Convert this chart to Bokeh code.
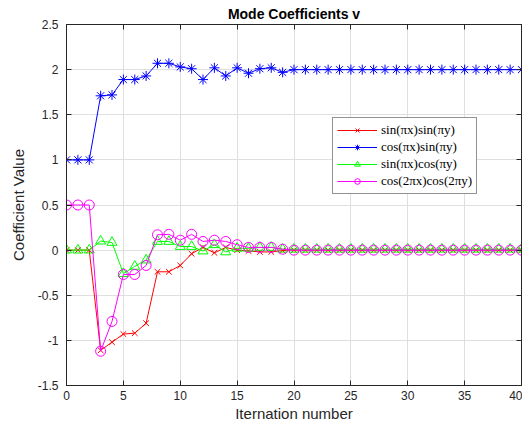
from bokeh.plotting import figure
from bokeh.models import LinearAxis, FixedTicker, Legend, LegendItem, Range1d, Title
from bokeh.embed import file_html
from bokeh.resources import INLINE

iters = list(range(41))
sin_sin = [0, 0, 0, -1.11, -1.02, -0.93, -0.92, -0.81, -0.24, -0.24, -0.17, -0.04, 0.03,
           -0.03, 0.03, 0.0, -0.01, -0.02, -0.02, -0.005] + [0.0] * 21
cos_sin = [1.0, 1.0, 1.0, 1.71, 1.72, 1.89, 1.89, 1.93, 2.07, 2.07, 2.03, 2.01, 1.89,
           2.02, 1.93, 2.02, 1.96, 2.01, 2.02, 1.97] + [2.0] * 21
sin_cos = [0, 0, 0, 0.10, 0.085, -0.26, -0.18, -0.11, 0.096, 0.096, 0.04, 0.04, -0.01,
           0.06, -0.02, 0.02, 0.02, 0.03, 0.03, 0.01] + [0.01] * 21
cos2_cos2 = [0.5, 0.5, 0.5, -1.12, -0.79, -0.27, -0.27, -0.17, 0.17, 0.175, 0.11, 0.175,
             0.096, 0.11, 0.096, 0.06, 0.03, 0.03, 0.03, 0.01] + [0.0] * 21

labels = ["sin(πx)sin(πy)", "cos(πx)sin(πy)", "sin(πx)cos(πy)", "cos(2πx)cos(2πy)"]
colors = ["#FF0000", "#0000FF", "#00FF00", "#FF00FF"]
markers = ["x", "asterisk", "triangle", "circle"]
xticks = [0, 5, 10, 15, 20, 25, 30, 35, 40]
yticks = [-1.5, -1, -0.5, 0, 0.5, 1, 1.5, 2, 2.5]
ytick_labels = ["-1.5", "-1", "-0.5", "0", "0.5", "1", "1.5", "2", "2.5"]

W, H = 522, 424
p = figure(width=W, height=H, output_backend="svg", toolbar_location=None,
           x_range=Range1d(0, 40), y_range=Range1d(-1.5, 2.5),
           min_border_left=66, min_border_right=1, min_border_top=0, min_border_bottom=38)
p.title = Title(text="Mode Coefficients v", align="center", text_font="Liberation Sans",
                text_font_size="14px", text_font_style="bold", text_color="#000000",
                offset=0, standoff=6)
p.outline_line_color = "#262626"
p.outline_line_width = 1
p.background_fill_color = "white"

font = "Liberation Sans"
for ax in p.xaxis + p.yaxis:
    ax.major_label_text_font = font
    ax.major_label_text_font_size = "12px"
    ax.major_label_text_color = "#262626"
    ax.axis_line_color = "#262626"
    ax.major_tick_line_color = "#262626"
    ax.major_tick_in = 5
    ax.major_tick_out = 0
    ax.minor_tick_line_color = None
    ax.axis_label_text_font = font
    ax.axis_label_text_font_size = "15px"
    ax.axis_label_text_font_style = "normal"
    ax.axis_label_text_color = "#262626"

p.xaxis.ticker = FixedTicker(ticks=xticks)
p.yaxis.ticker = FixedTicker(ticks=yticks)
p.yaxis.major_label_overrides = {t: l for t, l in zip(yticks, ytick_labels)}
p.xaxis.axis_label = "Iternation number"
p.yaxis.axis_label = "Coefficient Value"
p.xaxis.axis_label_standoff = 2
p.yaxis.axis_label_standoff = 8
p.xaxis.major_label_standoff = 5
p.yaxis.major_label_standoff = 8

top = LinearAxis(ticker=FixedTicker(ticks=xticks),
                 major_label_overrides={t: "" for t in xticks},
                 major_tick_in=5, major_tick_out=0, axis_line_color="#262626",
                 major_tick_line_color="#262626", minor_tick_line_color=None,
                 major_label_standoff=0)
right = LinearAxis(ticker=FixedTicker(ticks=yticks),
                   major_label_overrides={t: "" for t in yticks},
                   major_tick_in=5, major_tick_out=0, axis_line_color="#262626",
                   major_tick_line_color="#262626", minor_tick_line_color=None,
                   major_label_standoff=0)
p.add_layout(top, "above")
p.add_layout(right, "right")

p.xgrid.ticker = FixedTicker(ticks=xticks)
p.ygrid.ticker = FixedTicker(ticks=yticks)
p.grid.grid_line_color = "#DFDFDF"
p.grid.grid_line_width = 1

items = []
for ys, lab, c, m in zip([sin_sin, cos_sin, sin_cos, cos2_cos2], labels, colors, markers):
    ln = p.line(iters, ys, line_color=c, line_width=1)
    sc = p.scatter(iters, ys, marker=m, size=10 if m != "x" else 8, line_color=c,
                   fill_color=None, line_width=1)
    items.append(LegendItem(label=lab, renderers=[ln, sc]))

legend = Legend(items=items, location=(266, 191), label_text_font="Liberation Serif",
                label_text_font_size="13px", label_text_color="#000000",
                border_line_color="#262626", border_line_width=1,
                background_fill_color="white", background_fill_alpha=1,
                glyph_width=40, glyph_height=14, label_height=14, spacing=1,
                padding=4, margin=0, label_standoff=4)
p.add_layout(legend, "center")

open("out.html", "w").write(file_html(p, INLINE))
